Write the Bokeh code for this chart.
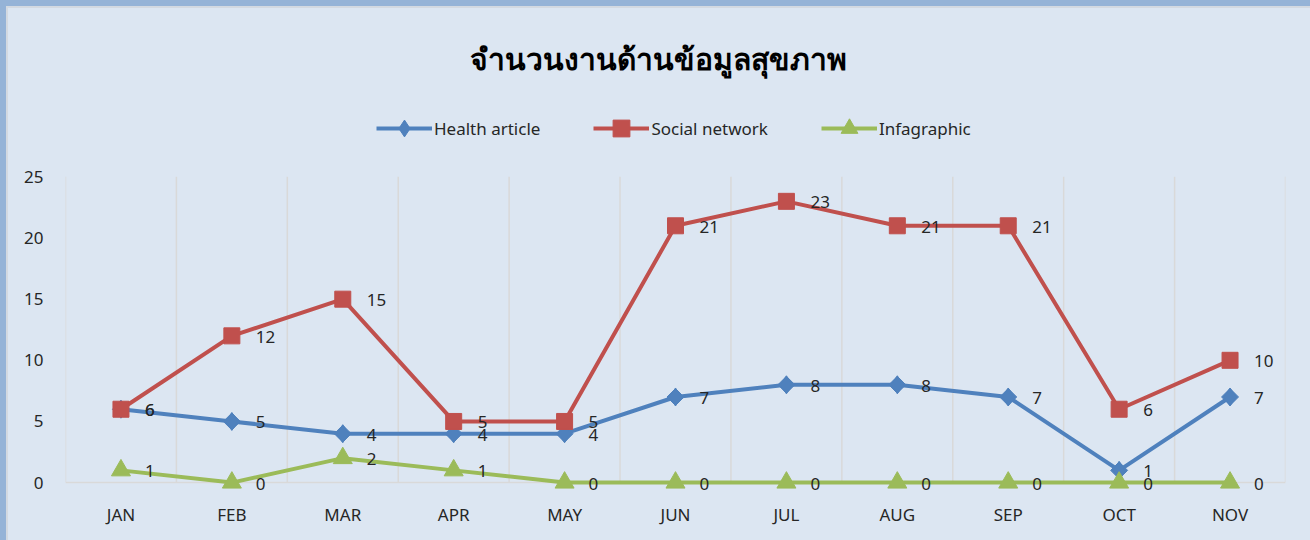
import numpy as np
from bokeh.plotting import figure
from bokeh.layouts import column
from bokeh.models import Legend, FixedTicker, ColumnDataSource, Range1d
from bokeh.core.properties import value
from bokeh.embed import file_html
from bokeh.resources import INLINE

months = ["JAN", "FEB", "MAR", "APR", "MAY", "JUN", "JUL", "AUG", "SEP", "OCT", "NOV"]
health = [6, 5, 4, 4, 4, 7, 8, 8, 7, 1, 7]
social = [6, 12, 15, 5, 5, 21, 23, 21, 21, 6, 10]
infographic = [1, 0, 2, 1, 0, 0, 0, 0, 0, 0, 0]
y_ticks = [0, 5, 10, 15, 20, 25]

FONT = "Noto Sans"
BG = "#dce6f2"
TXT = "#262626"

xpos = np.arange(len(months)) + 0.5

p = figure(width=1302, height=532, output_backend="svg", toolbar_location=None,
           x_range=Range1d(0, len(months)), y_range=Range1d(-1.3, 31),
           min_border_left=57, min_border_right=25, min_border_top=95, min_border_bottom=42)
p.background_fill_color = None
p.border_fill_color = None
p.outline_line_color = None
p.margin = (8, 0, 0, 8)

p.title.text = "จำนวนงานด้านข้อมูลสุขภาพ"
p.title.align = "left"
p.title.text_font = FONT
p.title.text_font_size = "30px"
p.title.text_font_style = "bold"
p.title.text_color = "#000000"
p.title.standoff = 49
p.title.offset = 404

# grid
bounds = np.arange(len(months) + 1)
p.segment(x0=bounds, y0=[0] * len(bounds), x1=bounds, y1=[max(y_ticks)] * len(bounds),
          line_color="#d9d9d9", line_width=1.5)
p.xgrid.visible = False
p.ygrid.ticker = FixedTicker(ticks=[0])
p.ygrid.grid_line_color = "#d9d9d9"
p.ygrid.grid_line_width = 1.5

# axes
p.xaxis.ticker = FixedTicker(ticks=list(xpos))
p.xaxis.major_label_overrides = {float(x): m for x, m in zip(xpos, months)}
p.yaxis.ticker = FixedTicker(ticks=y_ticks)
for ax in (p.xaxis, p.yaxis):
    ax.axis_line_color = None
    ax.major_tick_line_color = None
    ax.minor_tick_line_color = None
    ax.major_label_text_font = FONT
    ax.major_label_text_font_size = "17px"
    ax.major_label_text_color = TXT
p.xaxis.major_label_standoff = -2
p.yaxis.major_label_standoff = 16

series = [
    ("Health article", health, "#4f81bd", "diamond", 18),
    ("Social network", social, "#c0504d", "square", 16),
    ("Infagraphic", infographic, "#9bbb59", "triangle", 19),
]
items = []
for name, vals, col, marker, size in series:
    src = ColumnDataSource(dict(x=xpos, y=vals, t=[str(v) for v in vals]))
    l = p.line("x", "y", source=src, line_color=col, line_width=4)
    if marker == "diamond":
        # widen the diamond so that it is nearly as wide as tall
        p.scatter("x", "y", source=src, marker="square", size=12, angle=np.pi / 4,
                  fill_color=col, line_color=col)
    s = p.scatter("x", "y", source=src, marker=marker, size=size,
                  fill_color=col, line_color=col)
    p.text("x", "y", text="t", source=src, x_offset=24, y_offset=1,
           text_baseline="middle", text_align="left", text_font=value(FONT),
           text_font_size="17px", text_color=TXT)
    items.append((name, [l, s]))

legend = Legend(items=items, orientation="horizontal", location=(311, 349))
legend.background_fill_alpha = 0
legend.border_line_color = None
legend.label_text_font = FONT
legend.label_text_font_size = "17px"
legend.label_text_color = TXT
legend.glyph_width = 56
legend.glyph_height = 42
legend.label_standoff = 2
legend.spacing = 53
legend.padding = 0
legend.margin = 0
p.add_layout(legend, "center")

page = column(p, styles={
    "background-color": BG,
    "box-shadow": "inset 6px 6px 0 0 #95b3d7, inset 8px 8px 0 0 #d3d9e1",
})

open("out.html", "w").write(file_html(page, INLINE))
